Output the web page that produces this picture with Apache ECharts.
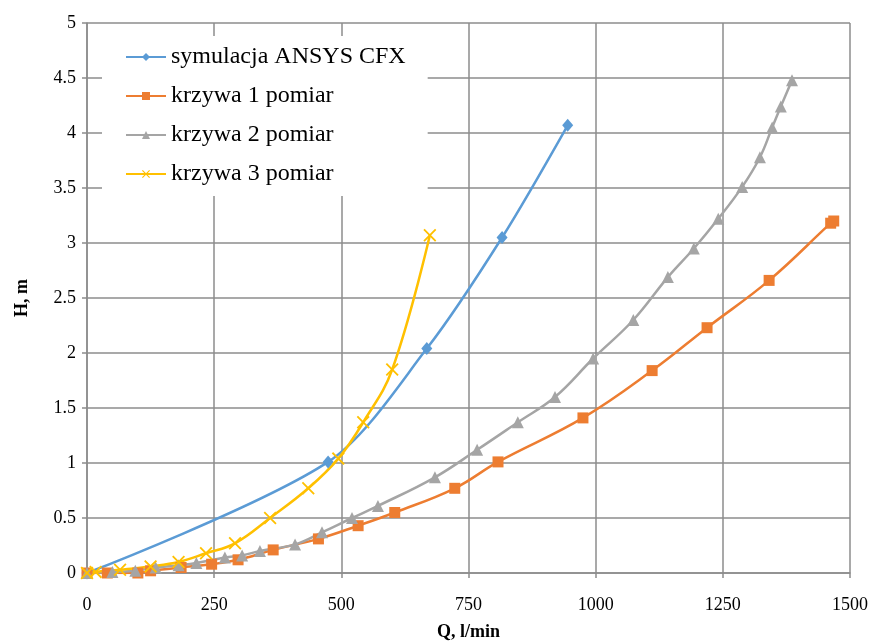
<!DOCTYPE html>
<html>
<head>
<meta charset="utf-8">
<script src="https://cdn.jsdelivr.net/npm/echarts@6/dist/echarts.min.js"></script>
<style>
  html, body { margin: 0; padding: 0; background: #fff; }
  #chart { width: 877px; height: 644px; }
</style>
</head>
<body>
<div id="chart"></div>
<script>
// Pump head H [m] versus flow rate Q [l/min]
const seriesNames = ['symulacja ANSYS CFX', 'krzywa 1 pomiar', 'krzywa 2 pomiar', 'krzywa 3 pomiar'];

const cfxQ = [0, 474, 668, 816, 945];
const cfxH = [0, 1.01, 2.04, 3.05, 4.07];

const k1Q = [0, 40, 100, 125, 185, 245, 297, 366, 455, 533, 605, 723, 808, 975, 1111, 1219, 1341, 1462, 1468];
const k1H = [0, 0.0, 0.0, 0.02, 0.05, 0.08, 0.12, 0.21, 0.31, 0.43, 0.55, 0.77, 1.01, 1.41, 1.84, 2.23, 2.66, 3.18, 3.20];

const k2Q = [0, 50, 95, 135, 180, 215, 271, 305, 340, 409, 462, 521, 572, 684, 767, 847, 920, 995, 1074, 1142, 1193, 1241, 1288, 1323, 1347, 1364, 1386];
const k2H = [0, 0.01, 0.02, 0.05, 0.07, 0.09, 0.14, 0.16, 0.20, 0.26, 0.37, 0.50, 0.61, 0.87, 1.12, 1.37, 1.60, 1.95, 2.30, 2.69, 2.95, 3.22, 3.51, 3.78, 4.05, 4.24, 4.48];

const k3Q = [0, 17, 65, 125, 180, 234, 291, 360, 435, 494, 543, 600, 674];
const k3H = [0, 0.01, 0.03, 0.06, 0.10, 0.18, 0.27, 0.50, 0.77, 1.04, 1.37, 1.85, 3.07];

const xTicks = { min: 0, max: 1500, step: 250 };
const yTicks = { min: 0, max: 5, step: 0.5 };

function pairs(xs, ys) { return xs.map((x, i) => [x, ys[i]]); }

const serif = 'Liberation Serif';
const gridColor = '#8c8c8c';
const crossPath = 'path://M0 0.1L0.1 0L0.5 0.4L0.9 0L1 0.1L0.6 0.5L1 0.9L0.9 1L0.5 0.6L0.1 1L0 0.9L0.4 0.5Z';

function lineSeries(name, data, color, symbol, size, smooth) {
  return {
    name: name,
    type: 'line',
    data: data,
    smooth: smooth,
    symbol: symbol,
    symbolSize: size,
    showAllSymbol: true,
    lineStyle: { color: color, width: 2.5 },
    itemStyle: { color: color, borderWidth: 0 },
    emphasis: { disabled: true },
    animation: false
  };
}

const chart = echarts.init(document.getElementById('chart'), null, { renderer: 'canvas' });

chart.setOption({
  backgroundColor: '#ffffff',
  animation: false,
  grid: { left: 87, right: 27, top: 23, bottom: 71, containLabel: false, outerBoundsMode: 'none' },
  legend: {
    orient: 'vertical',
    left: 102,
    top: 36,
    padding: [9, 22, 10, 23],
    backgroundColor: '#ffffff',
    itemWidth: 40,
    itemHeight: 10,
    itemGap: 15,
    textStyle: { fontFamily: serif, fontSize: 24, color: '#000' },
    data: seriesNames
  },
  xAxis: {
    type: 'value',
    min: xTicks.min, max: xTicks.max, interval: xTicks.step,
    name: 'Q, l/min',
    nameLocation: 'middle',
    nameGap: 50,
    nameTextStyle: { fontFamily: serif, fontSize: 18, fontWeight: 'bold', color: '#000' },
    axisLine: { show: true, onZero: false, lineStyle: { color: gridColor, width: 1.5 } },
    axisTick: { show: true, length: 5, lineStyle: { color: gridColor, width: 1.5 } },
    axisLabel: { fontFamily: serif, fontSize: 18, color: '#000', margin: 23, formatter: v => String(v) },
    splitLine: { show: true, lineStyle: { color: gridColor, width: 1.5 } }
  },
  yAxis: {
    type: 'value',
    min: yTicks.min, max: yTicks.max, interval: yTicks.step,
    name: 'H, m',
    nameLocation: 'middle',
    nameGap: 56,
    nameTextStyle: { fontFamily: serif, fontSize: 18, fontWeight: 'bold', color: '#000' },
    axisLine: { show: true, lineStyle: { color: gridColor, width: 1.5 } },
    axisTick: { show: true, length: 5, lineStyle: { color: gridColor, width: 1.5 } },
    axisLabel: { fontFamily: serif, fontSize: 18, color: '#000', margin: 11, formatter: v => String(v) },
    splitLine: { show: true, lineStyle: { color: gridColor, width: 1.5 } }
  },
  series: [
    lineSeries(seriesNames[0], pairs(cfxQ, cfxH), '#5b9bd5', 'diamond', [11, 13], 0.3),
    lineSeries(seriesNames[1], pairs(k1Q, k1H), '#ed7d31', 'rect', 11, 0.4),
    lineSeries(seriesNames[2], pairs(k2Q, k2H), '#a5a5a5', 'triangle', 12, 0.4),
    lineSeries(seriesNames[3], pairs(k3Q, k3H), '#ffc000', crossPath, 13, 0.4)
  ]
});
</script>
</body>
</html>
